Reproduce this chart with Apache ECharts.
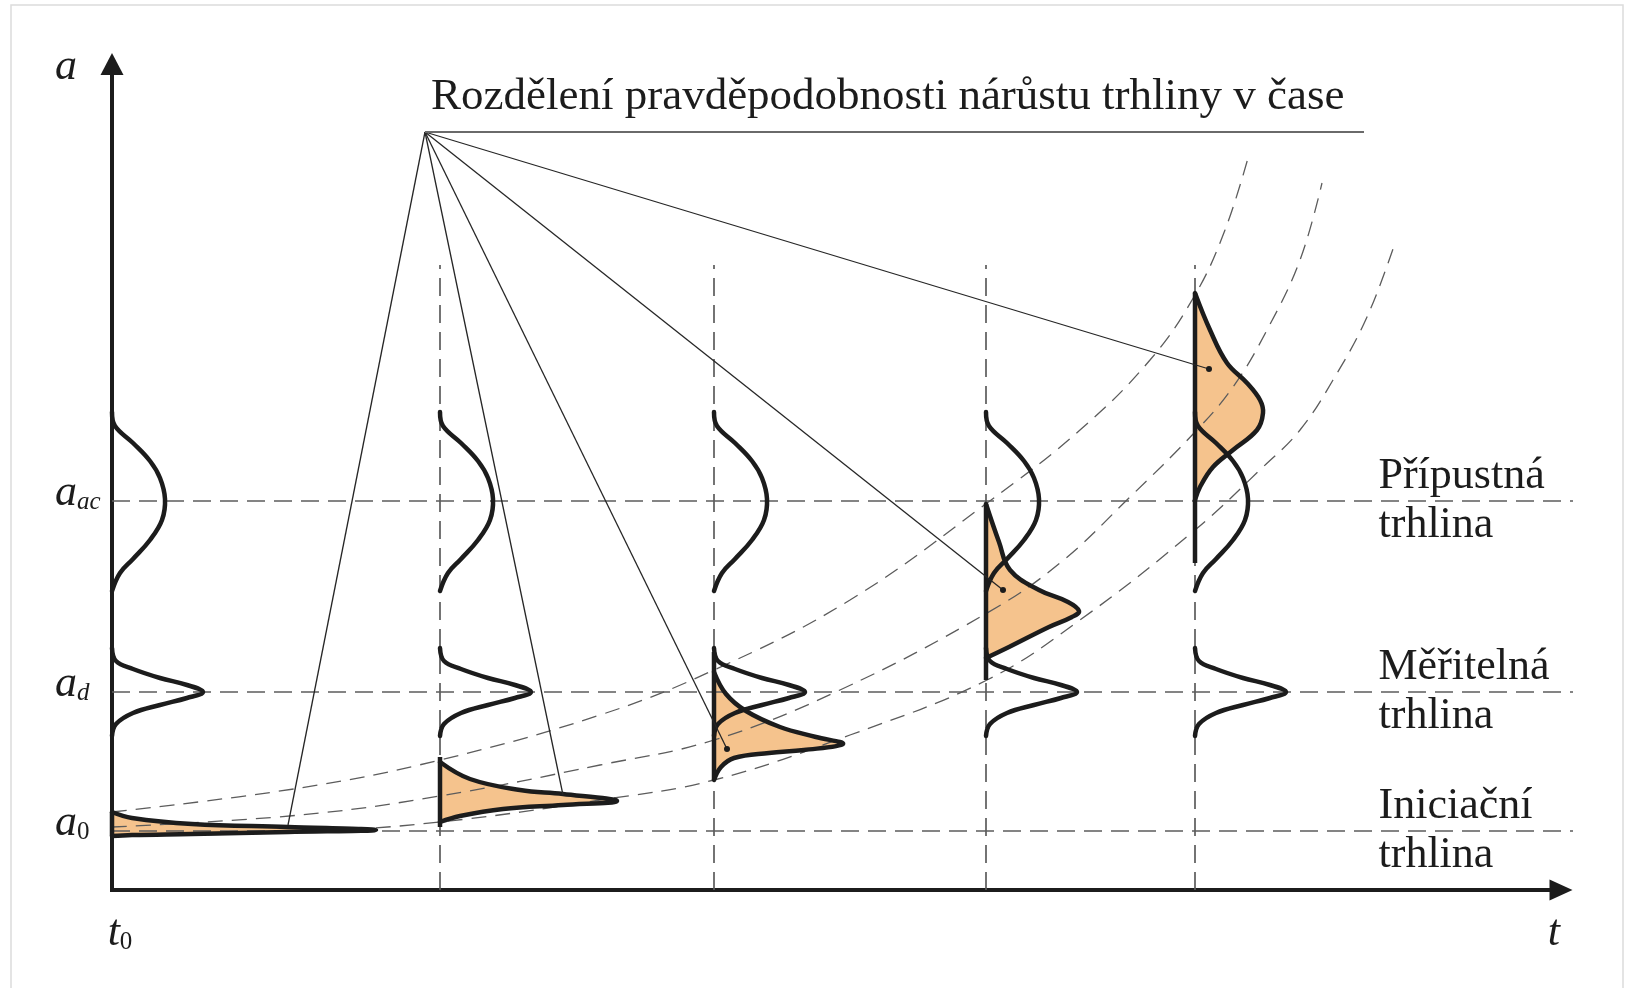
<!DOCTYPE html>
<html>
<head>
<meta charset="utf-8">
<script src="https://cdn.jsdelivr.net/npm/echarts@6/dist/echarts.min.js"></script>
<style>
  html, body { margin: 0; padding: 0; background: #fff; }
  #chart { width: 1627px; height: 988px; }
</style>
</head>
<body>
<div id="chart"></div>
<script>
// ---- Crack-size thresholds on the a axis ----
const thresholdKeys = ['ac', 'd', '0'];
const thresholdValues = [38.9, 19.8, 5.9];
const thresholdNames = ['Přípustná\ntrhlina', 'Měřitelná\ntrhlina', 'Iniciační\ntrhlina'];

// ---- Inspection times on the t axis ----
const inspectionTimes = [0, 32.8, 60.2, 87.4, 108.3];

// ---- Density profiles of the threshold distributions [density, a offset from threshold] ----
const acProfile = [[0, 8.9], [0.3, 7.5], [2.1, 5.8], [3.8, 4.0], [4.8, 2.3], [5.3, 0.2], [5.0, -1.9], [3.8, -3.9], [2.1, -5.8], [0.8, -7.2], [0, -9.0]];
const dProfile = [[0, 4.4], [0.4, 3.1], [2.1, 2.3], [4.8, 1.4], [7.5, 0.7], [9.1, 0], [7.5, -0.6], [4.8, -1.3], [2.1, -2.1], [0.4, -3.2], [0, -4.4]];

// ---- Crack-size distributions at each inspection time [density, a] ----
const growth0 = [[0, 7.8], [2.0, 7.2], [8.0, 6.6], [17.6, 6.3], [26.4, 6.0], [17.6, 5.8], [8.0, 5.6], [2.0, 5.5], [0, 5.4]];
const growth1 = [[0, 12.8], [3.0, 11.1], [8.0, 10.0], [12.3, 9.6], [17.7, 8.9], [12.3, 8.5], [6.3, 8.1], [2.0, 7.4], [0, 6.8]];
const growth2 = [[0, 21.8], [1.2, 19.6], [3.2, 17.9], [6.6, 16.3], [10.2, 15.3], [12.9, 14.6], [9.0, 14.0], [5.5, 13.7], [2.0, 13.2], [0.7, 12.3], [0, 11.0]];
const growth3 = [[0, 38.6], [1.3, 34.8], [2.4, 32.0], [5.3, 30.0], [8.2, 28.8], [9.3, 27.9], [8.6, 27.3], [6.3, 26.3], [2.3, 24.3], [0, 23.2]];
const growth4 = [[0, 59.7], [1.5, 56.0], [3.2, 52.7], [5.2, 50.7], [6.5, 49.0], [6.8, 47.7], [6.2, 46.0], [3.8, 44.0], [1.8, 42.3], [0.5, 40.3], [0, 39.0]];
const growthShapes = [growth0, growth1, growth2, growth3, growth4];
// baseline extent [a top, a bottom] of each distribution
const growthStems = [[7.8, 5.4], [13.3, 6.3], [23.8, 11.0], [38.6, 21.0], [59.7, 32.7]];

// ---- Crack growth scatter band (t, a) ----
const bandUpper = [[0, 7.8], [18.8, 10.2], [32.8, 13.0], [48.8, 17.5], [60.2, 22.0], [73.8, 29.0], [87.5, 38.7], [96.8, 46.0], [103.8, 53.0], [108.3, 59.5], [111.3, 66.0], [113.6, 73.2]];
const bandMedian = [[0, 6.3], [18.8, 7.5], [32.8, 9.4], [48.8, 12.5], [60.2, 15.0], [72.8, 20.0], [87.5, 27.7], [94.8, 32.7], [101.8, 39.3], [108.3, 45.8], [112.1, 50.3], [115.5, 56.0], [118.8, 63.0], [121.0, 70.7]];
const bandLower = [[0, 5.4], [18.8, 5.8], [32.8, 6.8], [48.8, 9.0], [60.2, 11.0], [73.8, 15.5], [87.5, 21.0], [96.8, 27.0], [108.3, 36.0], [115.1, 42.3], [118.8, 46.0], [122.1, 51.0], [125.5, 57.3], [128.3, 64.7]];

// ---- Caption and its leader lines ----
const caption = 'Rozdělení pravděpodobnosti nárůstu trhliny v čase';
const captionAnchor = [31.3, 75.8];
const captionEnd = 125.2;
const leaderTargets = [[17.6, 6.5], [45.1, 9.5], [61.5, 14.1], [89.1, 30.0], [109.7, 52.1]];
const leaderDots = [0, 0, 1, 1, 1];

// ---- Axis extents ----
const tMax = 144.9, aMax = 82.6;
const tLineEnd = 146.1;      // threshold lines run to the arrow tip
const timeLineTop = 62.5;    // top of the inspection-time lines
const labelT = 126.6;        // t where threshold names start

const ink = '#1c1c1c';
const dashGrey = '#5c5c5c';
const fillColor = '#f5c38d';
const serif = "'Liberation Serif', 'Times New Roman', serif";

const chart = echarts.init(document.getElementById('chart'), null, { renderer: 'canvas' });

const richLabels = {
  m: { fontFamily: serif, fontStyle: 'italic', fontSize: 44, lineHeight: 44, color: ink },
  s: { fontFamily: serif, fontStyle: 'italic', fontSize: 25, lineHeight: 18, verticalAlign: 'bottom', color: ink },
  n: { fontFamily: serif, fontSize: 25, lineHeight: 18, verticalAlign: 'bottom', color: ink }
};

function thresholdLabel(v) {
  let best = 0;
  thresholdValues.forEach((tv, i) => { if (Math.abs(tv - v) < Math.abs(thresholdValues[best] - v)) best = i; });
  const key = thresholdKeys[best];
  return key === '0' ? '{m|a}{n|0}' : '{m|a}{s|' + key + '}';
}

function polyAt(api, t, pts, aShift) {
  return pts.map(p => api.coord([t + p[0], (aShift || 0) + p[1]]));
}

const option = {
  animation: false,
  backgroundColor: '#ffffff',
  title: {
    text: caption,
    left: 426,
    top: 70,
    textStyle: { fontFamily: serif, fontSize: 45, fontWeight: 'normal', color: ink }
  },
  graphic: [{
    type: 'rect', silent: true, z: -10,
    shape: { x: 11, y: 5, width: 1612, height: 1000 },
    style: { fill: 'none', stroke: '#dcdcdc', lineWidth: 1.5 }
  }],
  grid: { left: 112, right: 66, top: 64, bottom: 98, outerBoundsMode: 'none' },
  xAxis: {
    type: 'value', min: 0, max: tMax,
    splitLine: { show: false },
    axisTick: { show: false },
    axisLine: { lineStyle: { color: ink, width: 4, cap: 'square' }, symbol: ['none', 'triangle'], symbolSize: [21, 23] },
    axisLabel: {
      customValues: [0],
      formatter: () => '{m|t}{n|0}',
      margin: 21, padding: [0, 0, 0, 16],
      rich: richLabels
    },
    name: 't', nameLocation: 'end', nameGap: -1,
    nameTextStyle: { fontFamily: serif, fontStyle: 'italic', fontSize: 44, lineHeight: 44, color: ink, align: 'right', verticalAlign: 'top', padding: [21, 0, 0, 0] }
  },
  yAxis: {
    type: 'value', min: 0, max: aMax,
    splitLine: { show: false },
    axisTick: { show: false },
    axisLine: { lineStyle: { color: ink, width: 4, cap: 'square' }, symbol: ['none', 'triangle'], symbolSize: [23, 22] },
    axisLabel: {
      customValues: thresholdValues,
      formatter: thresholdLabel,
      align: 'left', margin: 57, padding: [0, 0, 16, 0],
      rich: richLabels
    },
    name: 'a', nameLocation: 'end', nameGap: -3,
    nameTextStyle: { fontFamily: serif, fontStyle: 'italic', fontSize: 44, lineHeight: 44, color: ink, align: 'right', verticalAlign: 'middle', padding: [0, 35, 0, 0] }
  },
  series: [
    // filled crack-size distributions
    {
      type: 'custom', name: 'growthFill', z: 1, silent: true,
      data: inspectionTimes.map((t, i) => [t, i]),
      renderItem: (params, api) => {
        const i = params.dataIndex;
        return {
          type: 'polyline',
          shape: { points: polyAt(api, inspectionTimes[i], growthShapes[i]), smooth: 0.4 },
          style: { fill: fillColor, stroke: 'none' }
        };
      }
    },
    // threshold lines
    {
      type: 'custom', name: 'thresholds', z: 2, silent: true,
      data: thresholdValues.map(v => [0, v]),
      renderItem: (params, api) => {
        const p1 = api.coord([0, api.value(1)]);
        const p2 = api.coord([tLineEnd, api.value(1)]);
        return {
          type: 'line',
          shape: { x1: p1[0], y1: p1[1], x2: p2[0], y2: p2[1] },
          style: { stroke: dashGrey, lineWidth: 1.7, lineDash: [18, 9], fill: 'none' }
        };
      }
    },
    // inspection time lines
    {
      type: 'custom', name: 'inspections', z: 2, silent: true,
      data: inspectionTimes.slice(1).map(t => [t, 0]),
      renderItem: (params, api) => {
        const p1 = api.coord([api.value(0), 0]);
        const p2 = api.coord([api.value(0), timeLineTop]);
        return {
          type: 'line',
          shape: { x1: p1[0], y1: p1[1], x2: p2[0], y2: p2[1] },
          style: { stroke: dashGrey, lineWidth: 1.7, lineDash: [18, 9], fill: 'none' }
        };
      }
    },
    // crack growth band
    ...[bandUpper, bandMedian, bandLower].map(band => ({
      type: 'line', z: 2, silent: true, data: band, smooth: 0.4, showSymbol: false, symbol: 'none',
      lineStyle: { color: dashGrey, width: 1.3, type: [15, 9] }
    })),
    // outlines of all distributions
    {
      type: 'custom', name: 'outlines', z: 3, silent: true,
      data: inspectionTimes.map((t, i) => [t, i]),
      renderItem: (params, api) => {
        const i = params.dataIndex;
        const t = inspectionTimes[i];
        const stroke = { stroke: ink, lineWidth: 4.5, fill: 'none', lineCap: 'round', lineJoin: 'round' };
        const stemTop = api.coord([t, growthStems[i][0]]);
        const stemBot = api.coord([t, growthStems[i][1]]);
        return {
          type: 'group',
          children: [
            { type: 'polyline', shape: { points: polyAt(api, t, acProfile, thresholdValues[0]), smooth: 0.4 }, style: stroke },
            { type: 'polyline', shape: { points: polyAt(api, t, dProfile, thresholdValues[1]), smooth: 0.4 }, style: stroke },
            { type: 'polyline', shape: { points: polyAt(api, t, growthShapes[i]), smooth: 0.4 }, style: stroke },
            { type: 'line', shape: { x1: stemTop[0], y1: stemTop[1], x2: stemBot[0], y2: stemBot[1] }, style: { stroke: ink, lineWidth: 4.5, lineCap: 'butt' } }
          ]
        };
      }
    },
    // caption underline
    {
      type: 'line', z: 4, silent: true, symbol: 'none',
      data: [captionAnchor, [captionEnd, captionAnchor[1]]],
      lineStyle: { color: '#6a6a6a', width: 2 }
    },
    // leader lines from the caption
    {
      type: 'custom', name: 'leaders', z: 4, silent: true,
      data: leaderTargets.map((p, i) => [p[0], p[1], leaderDots[i]]),
      renderItem: (params, api) => {
        const hub = api.coord(captionAnchor);
        const end = api.coord([api.value(0), api.value(1)]);
        const children = [{
          type: 'line',
          shape: { x1: hub[0], y1: hub[1], x2: end[0], y2: end[1] },
          style: { stroke: '#262626', lineWidth: 1.3, fill: 'none' }
        }];
        if (api.value(2)) {
          children.push({ type: 'circle', shape: { cx: end[0], cy: end[1], r: 3 }, style: { fill: ink } });
        }
        return { type: 'group', children };
      }
    },
    // threshold names
    {
      type: 'scatter', z: 5, silent: true, symbolSize: 1,
      itemStyle: { color: 'rgba(0,0,0,0)', opacity: 1 },
      data: thresholdValues.map((v, i) => ({ value: [labelT, v], name: thresholdNames[i] })),
      label: {
        show: true, position: 'right', distance: 0, formatter: '{b}',
        fontFamily: serif, fontSize: 44, lineHeight: 49, color: ink, opacity: 1,
        align: 'left', padding: [6, 0, 0, 0]
      }
    }
  ]
};

chart.setOption(option);
</script>
</body>
</html>
